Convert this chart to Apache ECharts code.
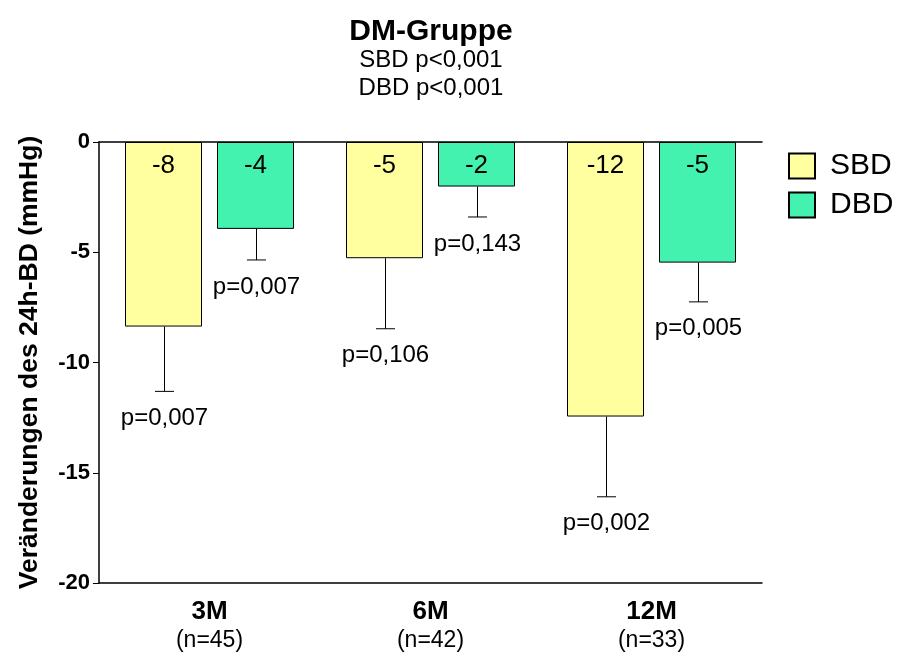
<!DOCTYPE html>
<html>
<head>
<meta charset="utf-8">
<script src="https://cdn.jsdelivr.net/npm/echarts@6/dist/echarts.min.js"></script>
<style>html,body{margin:0;padding:0;background:#fff}#c{width:898px;height:654px}</style>
</head>
<body>
<div id="c"></div>
<script>
var categories = ['3M', '6M', '12M'];
var nLabels = ['(n=45)', '(n=42)', '(n=33)'];
var sbdValues = [-8.37, -5.27, -12.45];
var dbdValues = [-3.94, -2.02, -5.47];
var sbdErrLow = [-11.31, -8.47, -16.09];
var dbdErrLow = [-5.35, -3.40, -7.25];
var sbdP = ['p=0,007', 'p=0,106', 'p=0,002'];
var dbdP = ['p=0,007', 'p=0,143', 'p=0,005'];
var yTicks = [-20, -15, -10, -5, 0];

var FONT = 'Liberation Sans, Arial, sans-serif';
var BAR_W = 77, BAR_GAP = 15;

function errSeries(name, vals, lows, pl, sign) {
  var data = vals.map(function (v, i) { return [i, v, lows[i], pl[i]]; });
  return {
    type: 'custom', name: name + '_err', silent: true, z: 5,
    data: data,
    encode: { x: 0, y: [1, 2] },
    renderItem: function (params, api) {
      var idx = api.value(0);
      var pTop = api.coord([idx, api.value(1)]);
      var pLow = api.coord([idx, api.value(2)]);
      var x = pTop[0] + sign * (BAR_W + BAR_GAP) / 2 + 1;
      var txt = pl[params.dataIndex];
      return {
        type: 'group',
        children: [
          { type: 'line', shape: { x1: x, y1: pTop[1], x2: x, y2: pLow[1] }, style: { stroke: '#000', lineWidth: 1 } },
          { type: 'line', shape: { x1: x - 9.5, y1: pLow[1], x2: x + 9.5, y2: pLow[1] }, style: { stroke: '#000', lineWidth: 1 } },
          { type: 'text', style: { x: x, y: pLow[1] + 27, text: txt, textAlign: 'center', textVerticalAlign: 'middle', font: '24px ' + FONT, fill: '#000' } }
        ]
      };
    }
  };
}

var chart = echarts.init(document.getElementById('c'));
chart.setOption({
  animation: false,
  backgroundColor: '#fff',
  title: {
    text: 'DM-Gruppe',
    subtext: 'SBD p<0,001\nDBD p<0,001',
    left: 431, top: 17, textAlign: 'center', itemGap: -1, padding: 0,
    textStyle: { fontFamily: FONT, fontSize: 30, fontWeight: 'bold', color: '#000', lineHeight: 30 },
    subtextStyle: { fontFamily: FONT, fontSize: 24, color: '#000', lineHeight: 28 }
  },
  legend: {
    orient: 'vertical', left: 788, top: 151, icon: 'rect', padding: 0,
    itemWidth: 26, itemHeight: 25, itemGap: 9,
    data: ['SBD', 'DBD'],
    textStyle: { fontFamily: FONT, fontSize: 30, color: '#000', lineHeight: 25, padding: [0, 0, 0, 10] }
  },
  grid: { left: 99, right: 136, top: 142, bottom: 71, containLabel: false, outerBoundsMode: 'none' },
  xAxis: [{
    type: 'category', data: categories, position: 'bottom',
    axisLine: { onZero: false, lineStyle: { color: '#000', width: 1.5 } },
    axisTick: { show: false },
    axisLabel: {
      margin: 15, interval: 0,
      formatter: function (v, i) { return '{b|' + v + '}\n{n|' + nLabels[i] + '}'; },
      rich: {
        b: { fontFamily: FONT, fontSize: 26, fontWeight: 'bold', color: '#000', lineHeight: 28 },
        n: { fontFamily: FONT, fontSize: 23, color: '#000', lineHeight: 29 }
      }
    }
  }, {
    type: 'category', data: categories, position: 'top',
    axisLine: { onZero: false, lineStyle: { color: '#000', width: 1.5 } },
    axisTick: { show: false }, axisLabel: { show: false }
  }],
  yAxis: {
    type: 'value', min: -20, max: 0, interval: 5,
    name: 'Veränderungen des 24h-BD (mmHg)', nameLocation: 'middle', nameGap: 56,
    nameTextStyle: { fontFamily: FONT, fontSize: 26.5, fontWeight: 'bold', color: '#000' },
    axisLine: { show: true, lineStyle: { color: '#000', width: 1.5 } },
    axisTick: { show: true, length: 6, lineStyle: { color: '#000', width: 1 } },
    splitLine: { show: false },
    axisLabel: {
      fontFamily: FONT, fontSize: 22, fontWeight: 'bold', color: '#000', margin: 9,
      formatter: function (v) { return yTicks.indexOf(v) >= 0 ? String(v) : ''; }
    }
  },
  series: [{
    name: 'SBD', type: 'bar', data: sbdValues, barWidth: BAR_W, barGap: (BAR_GAP / BAR_W * 100) + '%',
    itemStyle: { color: '#FFFF9F', borderColor: '#000', borderWidth: 1 },
    label: { show: true, position: 'insideTop', distance: 11, formatter: function (p) { return String(Math.round(p.value)); },
      fontFamily: FONT, fontSize: 26, color: '#000' }
  }, {
    name: 'DBD', type: 'bar', data: dbdValues, barWidth: BAR_W,
    itemStyle: { color: '#44F2AF', borderColor: '#000', borderWidth: 1 },
    label: { show: true, position: 'insideTop', distance: 11, formatter: function (p) { return String(Math.round(p.value)); },
      fontFamily: FONT, fontSize: 26, color: '#000' }
  },
  errSeries('SBD', sbdValues, sbdErrLow, sbdP, -1),
  errSeries('DBD', dbdValues, dbdErrLow, dbdP, 1)
  ]
});
</script>
</body>
</html>
